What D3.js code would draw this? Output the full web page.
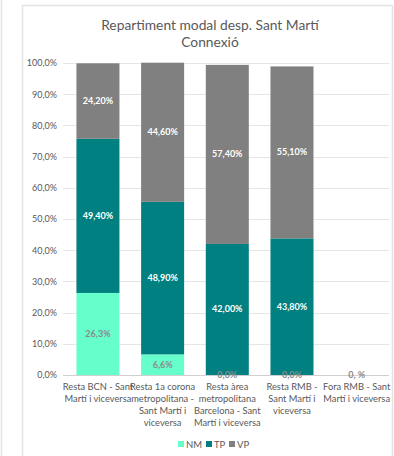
<!DOCTYPE html>
<html>
<head>
<meta charset="utf-8">
<script src="https://cdn.jsdelivr.net/npm/d3@7.9.0/dist/d3.min.js"></script>
<style>
  body { margin: 0; background: #fff; }
  svg { display: block; font-family: Lato, "Open Sans", sans-serif; }
</style>
</head>
<body>
<div id="chart"></div>
<script>
const categories = [
    ["Resta BCN - Sant", "Martí i viceversa"],
    ["Resta 1a corona", "metropolitana -", "Sant Martí i", "viceversa"],
    ["Resta àrea", "metropolitana", "Barcelona - Sant", "Martí i viceversa"],
    ["Resta RMB -", "Sant Martí i", "viceversa"],
    ["Fora RMB - Sant", "Martí i viceversa"]
];
const nm = [26.3, 6.6, 0, 0, 0];
const tp = [49.4, 48.9, 42.0, 43.8, 0];
const vp = [24.2, 44.6, 57.4, 55.1, 0];
const nmLabels = ["26,3%", "6,6%", "0,0%", "0,0%", "0, %"];
const tpLabels = ["49,40%", "48,90%", "42,00%", "43,80%", ""];
const vpLabels = ["24,20%", "44,60%", "57,40%", "55,10%", ""];
const yTicks = [0, 10, 20, 30, 40, 50, 60, 70, 80, 90, 100];
const seriesNames = ["NM", "TP", "VP"];
const colors = ["#66ffcc", "#008080", "#808080"];

const width = 394, height = 456;
const svg = d3.select("#chart").append("svg")
    .attr("width", width).attr("height", height);

// frames
svg.append("line").attr("x1", 1.5).attr("x2", 1.5).attr("y1", 0).attr("y2", height)
    .attr("stroke", "#e3e3e3").attr("stroke-width", 1.5);
svg.append("rect").attr("x", 22.5).attr("y", 5.5).attr("width", 370).attr("height", 460)
    .attr("fill", "none").attr("stroke", "#e3e3e3").attr("stroke-width", 1.5);

// title
svg.append("text").attr("x", 210).attr("y", 30).attr("text-anchor", "middle")
    .attr("font-size", 13.8).attr("fill", "#595959").text("Repartiment modal desp. Sant Martí");
svg.append("text").attr("x", 210).attr("y", 47).attr("text-anchor", "middle")
    .attr("font-size", 13.8).attr("fill", "#595959").text("Connexió");

const x = d3.scaleBand().domain(d3.range(categories.length)).range([65.6, 389]).paddingInner(0.335).paddingOuter(0.1675);
const y = d3.scaleLinear().domain([0, 100]).range([375, 63]);

// gridlines
yTicks.forEach(t => {
    svg.append("line").attr("x1", 63).attr("x2", 389)
        .attr("y1", Math.round(y(t)) + 0.5).attr("y2", Math.round(y(t)) + 0.5)
        .attr("stroke", t === 0 ? "#d0d0d0" : "#e6e6e6").attr("stroke-width", 1);
});
const yAxis = svg.append("g").attr("transform", "translate(57,0)")
    .call(d3.axisLeft(y).tickValues(yTicks).tickSize(0).tickFormat(d => d.toFixed(1).replace(".", ",") + "%"));
yAxis.select(".domain").remove();
yAxis.selectAll("text").attr("font-size", 9).attr("fill", "#595959")
    .attr("font-family", "Lato, sans-serif").attr("x", 0);

// stacks
const data = categories.map((c, i) => ({ i, NM: nm[i], TP: tp[i], VP: vp[i] }));
const stack = d3.stack().keys(seriesNames)(data);
stack.forEach((s, k) => {
    svg.append("g").selectAll("rect").data(s).join("rect")
        .attr("x", d => x(d.data.i))
        .attr("width", x.bandwidth())
        .attr("y", d => y(d[1]))
        .attr("height", d => y(d[0]) - y(d[1]))
        .attr("fill", colors[k]);
});

// data labels
const labelSets = [nmLabels, tpLabels, vpLabels];
stack.forEach((s, k) => {
    svg.append("g").selectAll("text").data(s).join("text")
        .attr("x", d => x(d.data.i) + x.bandwidth() / 2)
        .attr("y", d => (y(d[0]) + y(d[1])) / 2 + 3)
        .attr("text-anchor", "middle")
        .attr("font-size", 9)
        .attr("font-weight", "bold")
        .attr("fill", k === 0 ? "#8a8a8a" : "#ffffff")
        .text(d => labelSets[k][d.data.i]);
});

// category labels
categories.forEach((lines, i) => {
    const t = svg.append("text").attr("text-anchor", "middle")
        .attr("font-size", 9.3).attr("fill", "#595959");
    lines.forEach((ln, j) => {
        t.append("tspan").attr("x", x(i) + x.bandwidth() / 2).attr("y", 390 + j * 12).text(ln);
    });
});

// legend
const legendX = [178, 206, 229];
seriesNames.forEach((n, k) => {
    svg.append("rect").attr("x", legendX[k]).attr("y", 441).attr("width", 6).attr("height", 6).attr("fill", colors[k]);
    svg.append("text").attr("x", legendX[k] + 8).attr("y", 447.5).attr("font-size", 9.5)
        .attr("fill", "#595959").text(n);
});
</script>
</body>
</html>
